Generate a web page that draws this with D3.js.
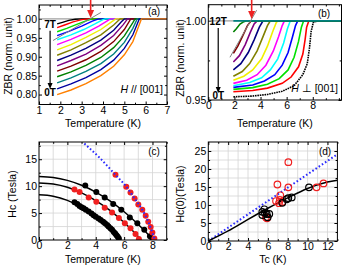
<!DOCTYPE html>
<html lang="en">
<head>
<meta charset="UTF-8">
<title>ZBR</title>
<style>
    body{ margin:0; background:#fff; }
    svg text{ font-family:"Liberation Sans", Arial, sans-serif; }
</style>
</head>
<body>
<script src="https://cdn.jsdelivr.net/npm/d3@7"></script>
<script>
    var width = 351, height = 272;

    // Origin-like colour order
    var colors = ["#000000","#ff0000","#00e000","#0000ff","#00ffff","#ff00ff","#f0f000","#808000",
                  "#000080","#800080","#800000","#008000","#008080","#0000a0","#ff8000"];

    /* (a) H // [001], 7T -> 0T in 0.5T steps */
    var fieldsA = [7, 6.5, 6, 5.5, 5, 4.5, 4, 3.5, 3, 2.5, 2, 1.5, 1, 0.5, 0];
    var curvesA = [
        [[1.85,0.987],[2.1,0.991],[2.4,0.996],[2.7,0.999],[3.0,1.0],[7,1.0]],
        [[1.85,0.977],[2.2,0.984],[2.6,0.992],[3.0,0.998],[3.3,1.0],[7,1.0]],
        [[1.85,0.966],[2.3,0.975],[2.8,0.986],[3.2,0.995],[3.5,1.0],[7,1.0]],
        [[1.85,0.956],[2.4,0.967],[3.0,0.981],[3.5,0.994],[3.8,1.0],[7,1.0]],
        [[1.85,0.945],[2.5,0.958],[3.1,0.972],[3.6,0.986],[4.0,0.998],[4.1,1.0],[7,1.0]],
        [[1.85,0.932],[2.5,0.946],[3.2,0.963],[3.8,0.981],[4.2,0.995],[4.35,1.0],[7,1.0]],
        [[1.85,0.918],[2.5,0.932],[3.2,0.951],[3.9,0.972],[4.4,0.992],[4.6,1.0],[7,1.0]],
        [[1.85,0.904],[2.5,0.918],[3.2,0.937],[3.9,0.958],[4.5,0.984],[4.8,1.0],[7,1.0]],
        [[1.85,0.890],[2.5,0.904],[3.2,0.922],[3.9,0.944],[4.5,0.970],[4.85,0.992],[5.0,1.0],[7,1.0]],
        [[1.85,0.876],[2.5,0.890],[3.2,0.907],[3.9,0.930],[4.5,0.956],[4.95,0.985],[5.15,1.0],[7,1.0]],
        [[1.85,0.862],[2.5,0.875],[3.2,0.892],[3.9,0.914],[4.5,0.940],[5.0,0.972],[5.3,1.0],[7,1.0]],
        [[1.85,0.847],[2.5,0.860],[3.2,0.877],[3.9,0.898],[4.5,0.924],[5.0,0.955],[5.4,0.990],[5.5,1.0],[7,1.0]],
        [[1.85,0.831],[2.5,0.844],[3.2,0.861],[3.9,0.882],[4.5,0.907],[5.0,0.938],[5.4,0.975],[5.6,1.0],[7,1.0]],
        [[1.85,0.815],[2.5,0.828],[3.2,0.845],[3.9,0.866],[4.5,0.891],[5.0,0.922],[5.4,0.958],[5.7,1.0],[7,1.0]],
        [[1.85,0.800],[2.5,0.812],[3.2,0.829],[3.9,0.850],[4.5,0.875],[5.0,0.905],[5.4,0.940],[5.8,1.0],[7,1.0]]
    ];
    var fitA = [[1.66,0.943],[3.9,1.017]];
    var arrowA = 3.42;

    /* (b) H perp [001], 0T -> 12T */
    var fieldsB = [0, 1, 2, 3, 4, 5, 6, 7, 8, 9, 10, 11, 12];
    var curvesB = [
        [[1.92,0.952],[3.4,0.9525],[4.53,0.9535],[5.66,0.9555],[6.57,0.959],[7.24,0.966],[7.58,0.973],[7.75,0.983],[7.87,0.993],[8.04,0.999],[8.38,1.0],[10.2,1.0]],
        [[1.92,0.9552],[3.4,0.956],[4.53,0.9575],[5.66,0.9605],[6.34,0.9645],[6.91,0.971],[7.24,0.979],[7.41,0.988],[7.53,0.996],[7.7,1.0],[10.2,1.0]],
        [[1.92,0.9567],[3.4,0.9578],[4.53,0.960],[5.43,0.9635],[6.11,0.969],[6.57,0.977],[6.91,0.987],[7.13,0.996],[7.3,1.0],[10.2,1.0]],
        [[1.92,0.958],[3.4,0.9595],[4.3,0.962],[5.09,0.966],[5.66,0.972],[6.11,0.980],[6.45,0.990],[6.68,0.997],[6.85,1.0],[10.2,1.0]],
        [[1.92,0.959],[3.17,0.961],[4.08,0.964],[4.75,0.969],[5.32,0.976],[5.77,0.986],[6.06,0.995],[6.28,1.0],[10.2,1.0]],
        [[1.92,0.9605],[2.94,0.9625],[3.74,0.966],[4.41,0.972],[4.98,0.981],[5.38,0.990],[5.66,0.997],[5.83,1.0],[10.2,1.0]],
        [[1.92,0.9625],[2.72,0.965],[3.4,0.969],[4.08,0.976],[4.53,0.984],[4.92,0.993],[5.21,0.999],[5.32,1.0],[10.2,1.0]],
        [[1.92,0.965],[2.6,0.968],[3.17,0.973],[3.74,0.981],[4.19,0.990],[4.53,0.997],[4.75,1.0],[10.2,1.0]],
        [[1.92,0.969],[2.49,0.973],[3.06,0.980],[3.51,0.988],[3.91,0.996],[4.19,1.0],[10.2,1.0]],
        [[1.92,0.974],[2.38,0.978],[2.83,0.985],[3.23,0.993],[3.51,0.998],[3.74,1.0],[10.2,1.0]],
        [[1.92,0.9794],[2.26,0.984],[2.66,0.991],[3.0,0.997],[3.28,1.0],[10.2,1.0]],
        [[1.92,0.993],[2.15,0.995],[2.43,0.998],[2.72,0.9995],[2.94,1.0],[10.2,1.0]],
        [[1.92,1.0],[10.2,1.0]]
    ];
    var fitB = [[1.66,0.977],[3.7,1.0067]];
    var arrowB = 3.32;

    /* (c) Hc(T) */
    var cBlueLine = [[3.2,17.9],[4.3,15.2],[5.39,12.1],[6.15,9.9],[6.74,7.7],[7.28,5.6],[7.7,3.4],[7.99,1.4],[8.15,0.2]];
    var cBluePts = [[5.39,12.1],[6.15,9.9],[6.45,8.8],[6.74,7.7],[7.0,6.6],[7.28,5.6],[7.52,4.5],[7.7,3.4],[7.87,2.4],[7.99,1.4],[8.13,0.3]];
    var cTopFit = [[0,11.8],[1,11.62],[2,11.07],[3,10.16],[4,8.89],[5,7.25],[6,5.24],[7,2.88],[8,0.15],[8.05,0]];
    var cTopPts = [[3.26,10.1],[4.04,8.9],[4.63,7.9],[5.23,6.7],[5.8,5.6],[6.4,4.2],[6.93,3.1],[7.42,1.9],[7.82,0.7],[8.0,0.1]];
    var cMidFit = [[0,10.6],[1,10.4],[2,9.8],[3,8.76],[4,7.33],[5,5.49],[6,3.24],[7,0.6],[7.2,0]];
    var cMidPts = [[2.5,9.4],[2.86,8.9],[3.5,7.9],[4.04,7.1],[4.63,6.0],[5.15,5.1],[5.63,4.1],[6.05,3.1],[6.45,2.2],[6.8,1.1],[7.04,0.2]];
    var cLowFit = [[0,8.4],[1,8.14],[2,7.36],[3,6.07],[4,4.26],[5,1.94],[5.7,0]];
    var cLowPts = [[2.5,7.0],[2.7,6.7],[2.86,6.3],[3.0,6.1],[3.14,5.9],[3.3,5.6],[3.5,5.3],[3.7,4.9],[3.85,4.6],[4.0,4.3],
                   [4.2,4.0],[4.35,3.7],[4.52,3.4],[4.65,3.1],[4.8,2.8],[4.9,2.5],[5.03,2.2],[5.15,1.9],[5.27,1.5],
                   [5.37,1.2],[5.46,0.9],[5.55,0.6],[5.63,0.3]];

    /* (d) Hc(0) vs Tc */
    var dBlueLine = [[0,0],[13,24.1]];
    var dBlackFit = [[0,0],[2,2.8],[4,6.0],[6,9.1],[8,12.0],[10,14.6],[12,16.4],[13,16.9]];
    var dRed = [[6.96,15.7],[8.06,21.9],[8.06,14.9],[7.25,12.7],[7.2,11.4],[6.82,11.1],[7.12,10.5],[7.45,10.8],
                [5.91,6.3],[5.8,6.6],[10.9,14.9],[11.6,16.0]];
    var dBlack = [[5.64,8.8],[5.44,8.1],[5.88,7.5],[6.14,7.5],[5.44,7.2],[5.98,6.6],[5.7,7.8],[7.9,11.6],
                  [8.06,11.9],[8.4,12.1],[7.45,10.6],[10.14,14.9]];

    var svg = d3.select("body").append("svg")
        .attr("width", width)
        .attr("height", height);

    var defs = svg.append("defs");

    /* 画一个面板: 框, 内向刻度, 网格 */
    function makePanel(p) {
        var g = svg.append("g");
        var x = d3.scaleLinear().domain(p.xd).range([p.l, p.r]);
        var y = d3.scaleLinear().domain(p.yd).range([p.b, p.t]);

        if (p.gx) {
            g.selectAll(".gx").data(p.gx).enter().append("line")
                .attr("x1", function (d) { return x(d); }).attr("x2", function (d) { return x(d); })
                .attr("y1", p.t).attr("y2", p.b)
                .attr("stroke", "#d4d4d4").attr("stroke-width", 0.8);
            g.selectAll(".gy").data(p.gy).enter().append("line")
                .attr("y1", function (d) { return y(d); }).attr("y2", function (d) { return y(d); })
                .attr("x1", p.l).attr("x2", p.r)
                .attr("stroke", "#d4d4d4").attr("stroke-width", 0.8);
        }

        function ax(gen, tr, vals, size, fmt) {
            var a = g.append("g").attr("transform", tr)
                .call(gen.tickValues(vals).tickSize(size).tickSizeOuter(0).tickPadding(2)
                    .tickFormat(fmt));
            a.select(".domain").remove();
            a.selectAll("line").attr("stroke", "#000");
            a.selectAll("text").attr("font-size", "10.5px").attr("fill", "#000")
                .attr("font-family", "Liberation Sans, Arial, sans-serif");
            return a;
        }
        var none = function () { return ""; };
        ax(d3.axisBottom(x), "translate(0," + p.b + ")", p.xt, -3, p.xf);
        ax(d3.axisTop(x), "translate(0," + p.t + ")", p.xt, -3, none);
        ax(d3.axisLeft(y), "translate(" + p.l + ",0)", p.yt, -3, p.yf);
        ax(d3.axisRight(y), "translate(" + p.r + ",0)", p.yt, -3, none);
        if (p.xm) {
            ax(d3.axisBottom(x), "translate(0," + p.b + ")", p.xm, -1.8, none);
            ax(d3.axisTop(x), "translate(0," + p.t + ")", p.xm, -1.8, none);
        }
        if (p.ym) {
            ax(d3.axisLeft(y), "translate(" + p.l + ",0)", p.ym, -1.8, none);
            ax(d3.axisRight(y), "translate(" + p.r + ",0)", p.ym, -1.8, none);
        }

        defs.append("clipPath").attr("id", p.id)
            .append("rect").attr("x", p.l).attr("y", p.t)
            .attr("width", p.r - p.l).attr("height", p.b - p.t);

        var plot = svg.append("g").attr("clip-path", "url(#" + p.id + ")");

        svg.append("rect")
            .attr("x", p.l).attr("y", p.t)
            .attr("width", p.r - p.l).attr("height", p.b - p.t)
            .attr("fill", "none").attr("stroke", "#000").attr("stroke-width", 1);

        // 轴标题
        svg.append("text")
            .attr("x", (p.l + p.r) / 2).attr("y", p.xty)
            .attr("text-anchor", "middle").attr("font-size", "10.5px")
            .text(p.xtitle);
        svg.append("text")
            .attr("transform", "translate(" + p.ytx + "," + p.yty + ") rotate(-90)")
            .attr("text-anchor", "middle").attr("font-size", "10.5px")
            .text(p.ytitle);
        svg.append("text")
            .attr("x", p.labx).attr("y", p.laby)
            .attr("text-anchor", "middle").attr("font-size", "10px")
            .text(p.label);

        return {x: x, y: y, plot: plot};
    }

    function arrowDown(x0, y1, y2, color, w, hw, hl) {
        svg.append("line")
            .attr("x1", x0).attr("x2", x0)
            .attr("y1", y1).attr("y2", y2 - hl + 1)
            .attr("stroke", color).attr("stroke-width", w);
        svg.append("path")
            .attr("d", "M" + (x0 - hw) + "," + (y2 - hl) + "L" + (x0 + hw) + "," + (y2 - hl) + "L" + x0 + "," + y2 + "Z")
            .attr("fill", color);
    }

    var fmt2 = d3.format(".2f");

    /* ---------- (a) ---------- */
    var pa = makePanel({
        id: "ca", l: 39, r: 167, t: 5, b: 104.5,
        xd: [1, 7], yd: [0.7737, 1.0368],
        xt: [1, 2, 3, 4, 5, 6, 7], xm: [1.5, 2.5, 3.5, 4.5, 5.5, 6.5],
        yt: [0.80, 0.85, 0.90, 0.95, 1.00], ym: [0.825, 0.875, 0.925, 0.975, 1.025],
        xf: d3.format("d"), yf: fmt2,
        xtitle: "Temperature (K)", xty: 127, ytitle: "ZBR (norm. unit)", ytx: 12, yty: 56,
        label: "(a)", labx: 154, laby: 15
    });
    var lineA = d3.line()
        .x(function (d) { return pa.x(d[0]); })
        .y(function (d) { return pa.y(d[1]); });

    pa.plot.append("line")
        .attr("x1", pa.x(1)).attr("x2", pa.x(7))
        .attr("y1", pa.y(1)).attr("y2", pa.y(1))
        .attr("stroke", "#a0a0a0").attr("stroke-width", 1.2);

    pa.plot.selectAll(".ca").data(curvesA).enter().append("path")
        .attr("d", lineA)
        .attr("fill", "none")
        .attr("stroke", function (d, i) { return colors[i]; })
        .attr("stroke-width", 1.4);

    pa.plot.append("path").attr("d", lineA(fitA))
        .attr("fill", "none").attr("stroke", "#808080").attr("stroke-width", 1);

    arrowDown(pa.x(arrowA), 0, 18, "#ee2222", 1.6, 3.5, 8);
    arrowDown(pa.x(1.52), pa.y(0.969), pa.y(0.815), "#000", 1.2, 2.5, 6);
    svg.append("text").attr("x", pa.x(1.52)).attr("y", pa.y(0.975))
        .attr("text-anchor", "middle").attr("font-size", "10px").attr("font-weight", "bold")
        .text(fieldsA[0] + "T");
    svg.append("text").attr("x", pa.x(1.52)).attr("y", pa.y(0.795))
        .attr("text-anchor", "middle").attr("font-size", "10px").attr("font-weight", "bold")
        .text(fieldsA[fieldsA.length - 1] + "T");
    var ta = svg.append("text").attr("x", 163).attr("y", 93)
        .attr("text-anchor", "end").attr("font-size", "10.5px");
    ta.append("tspan").attr("font-style", "italic").text("H");
    ta.append("tspan").text(" // [001]");

    /* ---------- (b) ---------- */
    var pb = makePanel({
        id: "cb", l: 208.3, r: 341.5, t: 4.7, b: 100,
        xd: [0, 10.2], yd: [0.95, 1.0102],
        xt: [0, 2, 4, 6, 8], xm: [1, 3, 5, 7, 9, 10],
        yt: [0.95, 1.00], ym: [0.975],
        xf: d3.format("d"), yf: fmt2,
        xtitle: "Temperature (K)", xty: 127, ytitle: "ZBR (norm. unit)", ytx: 184, yty: 58,
        label: "(b)", labx: 324, laby: 17
    });
    var lineB = d3.line()
        .x(function (d) { return pb.x(d[0]); })
        .y(function (d) { return pb.y(d[1]); });

    pb.plot.append("line")
        .attr("x1", pb.x(0)).attr("x2", pb.x(10.2))
        .attr("y1", pb.y(1)).attr("y2", pb.y(1))
        .attr("stroke", "#a0a0a0").attr("stroke-width", 1.2);

    pb.plot.selectAll(".cb").data(curvesB).enter().append("path")
        .attr("d", lineB)
        .attr("fill", "none")
        .attr("stroke", function (d, i) { return colors[i]; })
        .attr("stroke-width", 1.6)
        .attr("stroke-dasharray", function (d, i) { return i === 0 ? "1.6,0.8" : null; });

    pb.plot.append("path").attr("d", lineB(fitB))
        .attr("fill", "none").attr("stroke", "#808080").attr("stroke-width", 1);

    arrowDown(pb.x(arrowB), 0, 19, "#ee2222", 1.6, 3.5, 8);
    arrowDown(pb.x(0.76), pb.y(0.9955), pb.y(0.9545), "#000", 1.2, 2.5, 6);
    svg.append("text").attr("x", pb.x(0.76)).attr("y", pb.y(0.9976))
        .attr("text-anchor", "middle").attr("font-size", "10px").attr("font-weight", "bold")
        .text(fieldsB[fieldsB.length - 1] + "T");
    svg.append("text").attr("x", pb.x(0.76)).attr("y", pb.y(0.9505))
        .attr("text-anchor", "middle").attr("font-size", "10px").attr("font-weight", "bold")
        .text(fieldsB[0] + "T");
    var tb = svg.append("text").attr("x", 338).attr("y", 92)
        .attr("text-anchor", "end").attr("font-size", "10.5px");
    tb.append("tspan").attr("font-style", "italic").text("H");
    tb.append("tspan").text(" \u22a5 [001]");

    /* ---------- (c) ---------- */
    var pc = makePanel({
        id: "cc", l: 39, r: 166.7, t: 142, b: 240,
        xd: [0, 9], yd: [0, 18.2],
        xt: [0, 2, 4, 6, 8], xm: [1, 3, 5, 7, 9],
        yt: [0, 5, 10, 15], ym: [2.5, 7.5, 12.5, 17.5],
        gx: d3.range(1, 9), gy: [2.5, 5, 7.5, 10, 12.5, 15, 17.5],
        xf: d3.format("d"), yf: d3.format("d"),
        xtitle: "Temperature (K)", xty: 263, ytitle: "Hc (Tesla)", ytx: 16, yty: 194,
        label: "(c)", labx: 154, laby: 155
    });
    var lineC = d3.line()
        .curve(d3.curveMonotoneX)
        .x(function (d) { return pc.x(d[0]); })
        .y(function (d) { return pc.y(d[1]); });

    [cTopFit, cMidFit, cLowFit].forEach(function (c) {
        pc.plot.append("path").attr("d", lineC(c))
            .attr("fill", "none").attr("stroke", "#000").attr("stroke-width", 1.5);
    });
    function dotsC(data, color) {
        pc.plot.selectAll(null).data(data).enter().append("circle")
            .attr("cx", function (d) { return pc.x(d[0]); })
            .attr("cy", function (d) { return pc.y(d[1]); })
            .attr("r", 3)
            .attr("fill", color);
    }
    dotsC(cTopPts, "#000");
    dotsC(cMidPts, "#f02020");
    dotsC(cLowPts, "#000");
    dotsC(cBluePts, "#f02020");
    pc.plot.append("path").attr("d", lineC(cBlueLine))
        .attr("fill", "none").attr("stroke", "#2a2aff").attr("stroke-width", 2)
        .attr("stroke-dasharray", "1.6,2.2");

    /* ---------- (d) ---------- */
    var pd = makePanel({
        id: "cd", l: 208.3, r: 337.4, t: 142, b: 241,
        xd: [0, 13], yd: [0, 27.5],
        xt: [0, 2, 4, 6, 8, 10, 12], xm: [1, 3, 5, 7, 9, 11, 13],
        yt: [0, 5, 10, 15, 20, 25], ym: [2.5, 7.5, 12.5, 17.5, 22.5],
        gx: d3.range(1, 13), gy: [2.5, 5, 7.5, 10, 12.5, 15, 17.5, 20, 22.5, 25],
        xf: d3.format("d"), yf: d3.format("d"),
        xtitle: "Tc (K)", xty: 263, ytitle: "Hc(0)(Tesla)", ytx: 184, yty: 194,
        label: "(d)", labx: 325, laby: 155
    });
    var lineD = d3.line()
        .curve(d3.curveMonotoneX)
        .x(function (d) { return pd.x(d[0]); })
        .y(function (d) { return pd.y(d[1]); });

    pd.plot.append("path").attr("d", lineD(dBlueLine))
        .attr("fill", "none").attr("stroke", "#2a2aff").attr("stroke-width", 2)
        .attr("stroke-dasharray", "1.6,2.2");
    pd.plot.append("path").attr("d", lineD(dBlackFit))
        .attr("fill", "none").attr("stroke", "#000").attr("stroke-width", 1.5);

    function ringsD(data, color) {
        pd.plot.selectAll(null).data(data).enter().append("circle")
            .attr("cx", function (d) { return pd.x(d[0]); })
            .attr("cy", function (d) { return pd.y(d[1]); })
            .attr("r", 3.3)
            .attr("fill", "none")
            .attr("stroke", color)
            .attr("stroke-width", 1.2);
    }
    ringsD(dRed, "#f02020");
    ringsD(dBlack, "#000");
</script>
</body>
</html>
